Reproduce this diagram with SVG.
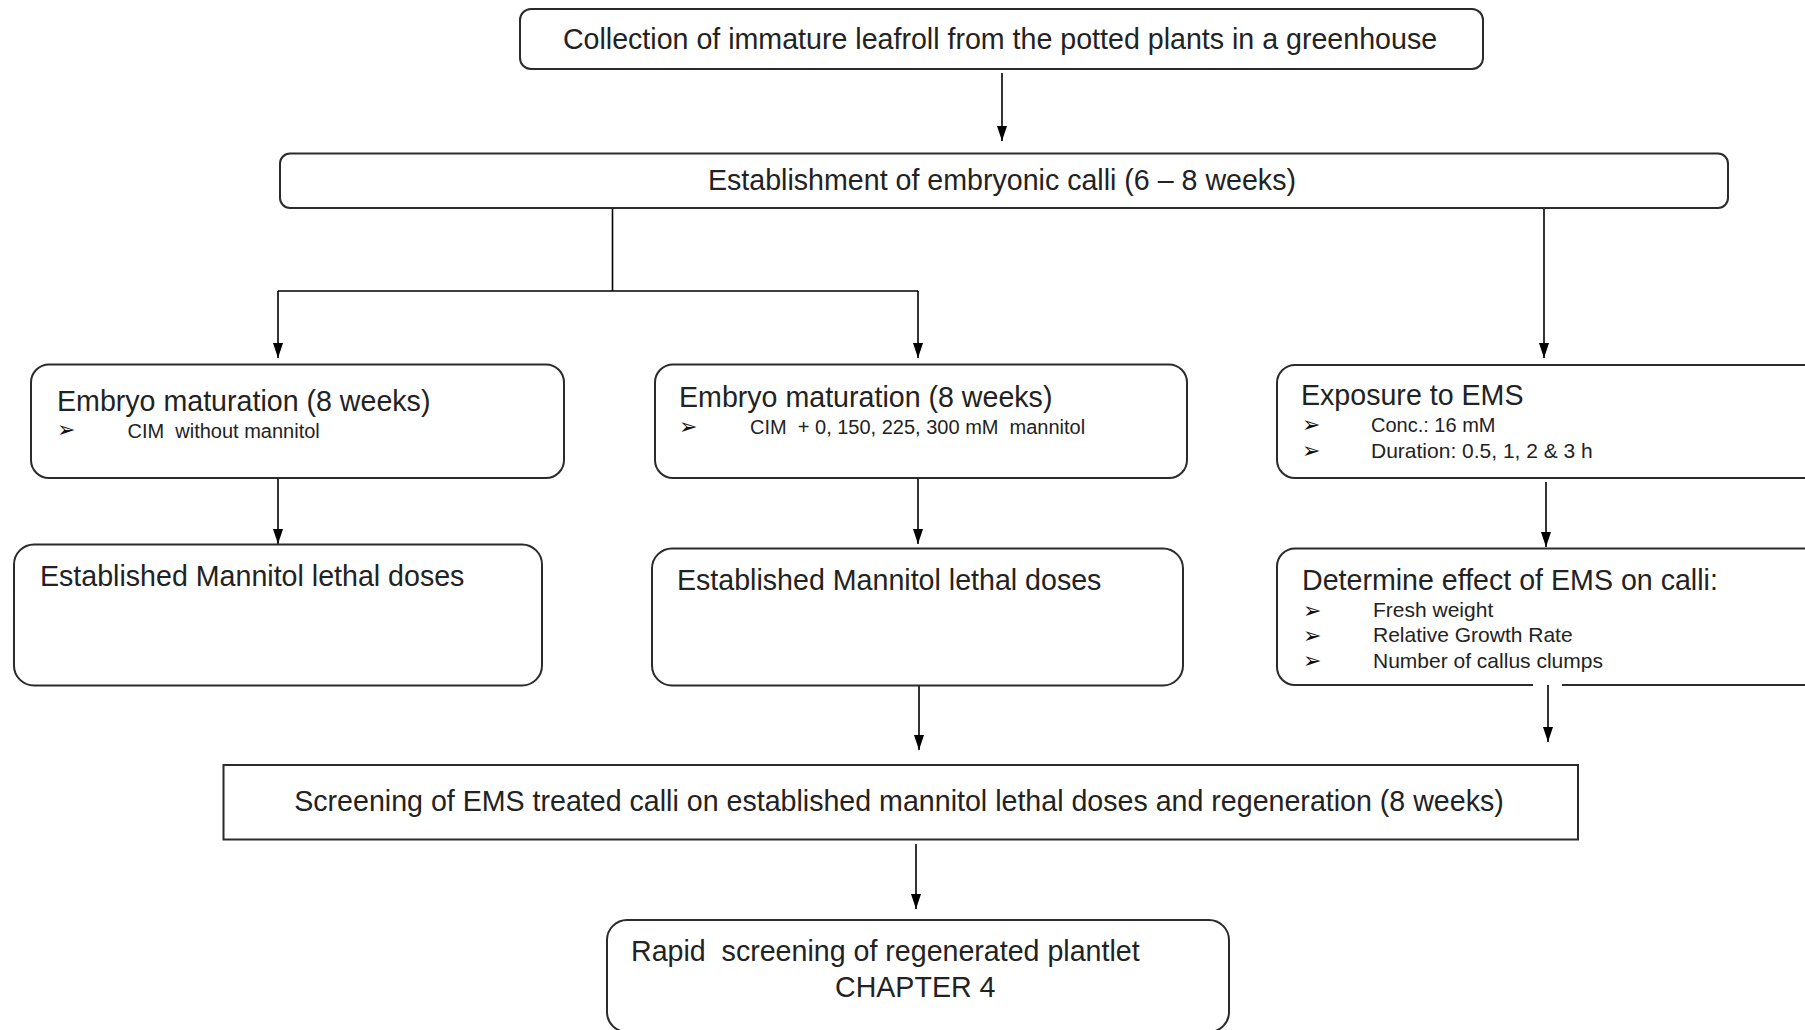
<svg xmlns="http://www.w3.org/2000/svg" width="1805" height="1030" viewBox="0 0 1805 1030">
<style>
  .box { fill: #ffffff; stroke: #2b2b2b; stroke-width: 2; }
  .conn { fill: none; stroke: #000000; stroke-width: 1.6; }
  .t { font-family: "Liberation Sans", Arial, sans-serif; font-size: 28.6px; fill: #222222; white-space: pre; }
  .s { font-family: "Liberation Sans", Arial, sans-serif; font-size: 20px; fill: #222222; white-space: pre; }
  .s2 { font-family: "Liberation Sans", Arial, sans-serif; font-size: 21px; fill: #222222; white-space: pre; }
  .b { font-family: "DejaVu Sans", sans-serif; font-size: 22px; fill: #111111; }
  .mid { text-anchor: middle; }
</style>
<defs>
  <marker id="arr" viewBox="0 0 15 10" markerWidth="15" markerHeight="10" refX="15" refY="5" orient="auto" markerUnits="userSpaceOnUse">
    <path d="M0,0 L15,5 L0,10 Z" fill="#000000"/>
  </marker>
</defs>
<rect width="1805" height="1030" fill="#ffffff"/>

<g id="connectors">
  <line class="conn" x1="1002" y1="73" x2="1002" y2="141" marker-end="url(#arr)"/>
  <polyline class="conn" points="612.5,208 612.5,291"/>
  <polyline class="conn" points="278,291 918,291"/>
  <line class="conn" x1="278" y1="291" x2="278" y2="358" marker-end="url(#arr)"/>
  <line class="conn" x1="918" y1="291" x2="918" y2="358" marker-end="url(#arr)"/>
  <line class="conn" x1="1544" y1="208" x2="1544" y2="358" marker-end="url(#arr)"/>
  <line class="conn" x1="278" y1="478" x2="278" y2="544" marker-end="url(#arr)"/>
  <line class="conn" x1="918" y1="478" x2="918" y2="544" marker-end="url(#arr)"/>
  <line class="conn" x1="1546" y1="482" x2="1546" y2="547" marker-end="url(#arr)"/>
  <line class="conn" x1="919" y1="686" x2="919" y2="750" marker-end="url(#arr)"/>
  <line class="conn" x1="916" y1="844" x2="916" y2="909" marker-end="url(#arr)"/>
</g>

<g id="n-collection">
  <rect class="box" x="520" y="9" width="963" height="60" rx="11"/>
  <text class="t mid" x="1000" y="49">Collection of immature leafroll from the potted plants in a greenhouse</text>
</g>

<g id="n-establishment">
  <rect class="box" x="280" y="153.5" width="1448" height="54.5" rx="10"/>
  <text class="t mid" x="1002" y="190">Establishment of embryonic calli (6 – 8 weeks)</text>
</g>

<g id="n-embryo1">
  <rect class="box" x="31" y="364.5" width="533" height="113.5" rx="18"/>
  <text class="t" x="57" y="411">Embryo maturation (8 weeks)</text>
  <text class="b" x="57" y="436.5">➢</text>
  <text class="s" x="127.5" y="438">CIM  without mannitol</text>
</g>

<g id="n-embryo2">
  <rect class="box" x="655" y="364.5" width="532" height="113.5" rx="18"/>
  <text class="t" x="679" y="407">Embryo maturation (8 weeks)</text>
  <text class="b" x="679" y="433.5">➢</text>
  <text class="s" x="750" y="434">CIM  + 0, 150, 225, 300 mM  mannitol</text>
</g>

<g id="n-ems">
  <rect class="box" x="1277" y="365" width="1526" height="113" rx="18"/>
  <text class="t" x="1301" y="405">Exposure to EMS</text>
  <text class="b" x="1302" y="431.5">➢</text>
  <text class="s" x="1371" y="431.5">Conc.: 16 mM</text>
  <text class="b" x="1302" y="457.5">➢</text>
  <text class="s2" x="1371" y="457.5">Duration: 0.5, 1, 2 &amp; 3 h</text>
</g>

<g id="n-lethal1">
  <rect class="box" x="14" y="544.5" width="528" height="141" rx="20"/>
  <text class="t" x="40" y="586">Established Mannitol lethal doses</text>
</g>

<g id="n-lethal2">
  <rect class="box" x="652" y="548.5" width="531" height="137" rx="20"/>
  <text class="t" x="677" y="590">Established Mannitol lethal doses</text>
</g>

<g id="n-determine">
  <rect class="box" x="1277" y="548.5" width="1526" height="136.5" rx="18"/>
  <line x1="1533" y1="685" x2="1562" y2="685" stroke="#ffffff" stroke-width="4"/>
  <line class="conn" x1="1548" y1="685" x2="1548" y2="742" marker-end="url(#arr)"/>
  <text class="t" x="1302" y="590">Determine effect of EMS on calli:</text>
  <text class="b" x="1303" y="617.5">➢</text>
  <text class="s2" x="1373" y="617">Fresh weight</text>
  <text class="b" x="1303" y="642.5">➢</text>
  <text class="s2" x="1373" y="642">Relative Growth Rate</text>
  <text class="b" x="1303" y="667.5">➢</text>
  <text class="s2" x="1373" y="668">Number of callus clumps</text>
</g>

<g id="n-screening">
  <rect class="box" x="223.5" y="765" width="1354.5" height="74.5"/>
  <text class="t mid" x="899" y="811">Screening of EMS treated calli on established mannitol lethal doses and regeneration (8 weeks)</text>
</g>

<g id="n-rapid">
  <rect class="box" x="607" y="920" width="622" height="112" rx="20"/>
  <text class="t" x="631" y="961">Rapid  screening of regenerated plantlet</text>
  <text class="t" x="835" y="996.5">CHAPTER 4</text>
</g>
</svg>
